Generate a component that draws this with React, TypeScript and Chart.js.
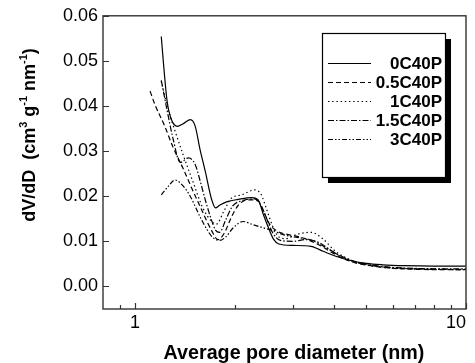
import React, { useEffect, useRef } from 'react';
import { Chart, registerables } from 'chart.js';

Chart.register(...registerables);

const FONT = "'Liberation Sans', Arial, Helvetica, sans-serif";

const seriesNames = ['0C40P', '0.5C40P', '1C40P', '1.5C40P', '3C40P'];

const x0C40P = [1.2, 1.22, 1.25, 1.28, 1.34, 1.4, 1.47, 1.52, 1.57, 1.63, 1.7, 1.75, 1.8, 1.9, 2.05, 2.25, 2.35, 2.44, 2.53, 2.62, 2.72, 3.0, 3.4, 3.7, 4.0, 4.5, 5.0, 5.6, 6.5, 8, 10];
const y0C40P = [0.0554, 0.049, 0.041, 0.0375, 0.0355, 0.0361, 0.037, 0.0355, 0.0305, 0.0255, 0.0195, 0.0174, 0.018, 0.0188, 0.0193, 0.0197, 0.0193, 0.016, 0.013, 0.0105, 0.0094, 0.0091, 0.0089, 0.0078, 0.0068, 0.0057, 0.0051, 0.0048, 0.0046, 0.0045, 0.0045];

const x05C40P = [1.11, 1.15, 1.23, 1.3, 1.4, 1.5, 1.6, 1.7, 1.78, 1.86, 1.95, 2.05, 2.2, 2.35, 2.45, 2.55, 2.7, 2.9, 3.2, 3.6, 4.0, 4.5, 5.5, 7, 10];
const y05C40P = [0.0433, 0.0402, 0.0355, 0.031, 0.026, 0.021, 0.0165, 0.0125, 0.0104, 0.0118, 0.0152, 0.018, 0.0192, 0.019, 0.0165, 0.0138, 0.0122, 0.0115, 0.0108, 0.0092, 0.0072, 0.0055, 0.0043, 0.0038, 0.0037];

const x1C40P = [1.2, 1.25, 1.3, 1.4, 1.5, 1.6, 1.7, 1.76, 1.85, 1.95, 2.1, 2.3, 2.4, 2.5, 2.6, 2.7, 2.85, 3.1, 3.4, 3.7, 4.0, 4.5, 5.5, 7, 10];
const y1C40P = [0.0455, 0.04, 0.036, 0.029, 0.023, 0.0175, 0.0145, 0.0138, 0.0165, 0.0195, 0.0203, 0.0214, 0.0205, 0.017, 0.0135, 0.0112, 0.0106, 0.0116, 0.012, 0.0105, 0.008, 0.0058, 0.0043, 0.0039, 0.0038];

const x15C40P = [1.2, 1.25, 1.3, 1.37, 1.45, 1.52, 1.57, 1.63, 1.7, 1.75, 1.8, 1.88, 1.97, 2.1, 2.3, 2.4, 2.5, 2.6, 2.75, 3.0, 3.3, 3.6, 4.0, 4.5, 5.5, 7, 10];
const y15C40P = [0.0457, 0.039, 0.033, 0.0275, 0.0285, 0.027, 0.0236, 0.0192, 0.0148, 0.0125, 0.012, 0.0148, 0.0178, 0.019, 0.0194, 0.018, 0.015, 0.012, 0.0102, 0.01, 0.0104, 0.0097, 0.0075, 0.0058, 0.0045, 0.004, 0.0039];

const x3C40P = [1.2, 1.26, 1.32, 1.4, 1.47, 1.57, 1.65, 1.72, 1.8, 1.88, 1.98, 2.12, 2.27, 2.44, 2.6, 2.8, 3.0, 3.4, 3.8, 4.3, 5.0, 6.5, 10];
const y3C40P = [0.0203, 0.0222, 0.0236, 0.0222, 0.0199, 0.0155, 0.0126, 0.0108, 0.0102, 0.011, 0.013, 0.0144, 0.0137, 0.013, 0.0124, 0.0115, 0.011, 0.0103, 0.0085, 0.0062, 0.0048, 0.004, 0.0037];

const seriesX = [x0C40P, x05C40P, x1C40P, x15C40P, x3C40P];
const seriesY = [y0C40P, y05C40P, y1C40P, y15C40P, y3C40P];
const seriesDash: number[][] = [[], [5, 3], [1.4, 2.8], [6, 2, 1.5, 2], [5, 2, 1.5, 2, 1.5, 2]];

const yTickValues = [0, 0.01, 0.02, 0.03, 0.04, 0.05, 0.06];
const xTickValues = [0.9, 1, 2, 3, 4, 5, 6, 7, 8, 9, 10];
const xLabeled = [1, 10];
const X_MIN = 0.8;
const X_MAX = 10;
const Y_MIN = -0.005;
const Y_MAX = 0.06;

const xTitle = 'Average pore diameter (nm)';
const yTitleParts = [
  { t: 'dV/dD  (cm', sup: false },
  { t: '3', sup: true },
  { t: ' g', sup: false },
  { t: '-1', sup: true },
  { t: ' nm', sup: false },
  { t: '-1', sup: true },
  { t: ')', sup: false },
];

function drawRich(ctx: CanvasRenderingContext2D, parts: { t: string; sup: boolean }[], size: number, cx: number, cy: number, rotate: boolean) {
  ctx.save();
  ctx.translate(cx, cy);
  if (rotate) ctx.rotate(-Math.PI / 2);
  const base = `bold ${size}px ${FONT}`;
  const sup = `bold ${Math.round(size * 0.62)}px ${FONT}`;
  let total = 0;
  for (const p of parts) {
    ctx.font = p.sup ? sup : base;
    total += ctx.measureText(p.t).width;
  }
  let x = -total / 2;
  ctx.textAlign = 'left';
  ctx.textBaseline = 'middle';
  ctx.fillStyle = '#000';
  for (const p of parts) {
    ctx.font = p.sup ? sup : base;
    ctx.fillText(p.t, x, p.sup ? -size * 0.36 : 0);
    x += ctx.measureText(p.t).width;
  }
  ctx.restore();
}

const decorPlugin = {
  id: 'decor',
  afterDraw(chart: any) {
    const ctx: CanvasRenderingContext2D = chart.ctx;
    const { left, right, top, bottom } = chart.chartArea;
    const xs = chart.scales.x;
    const ys = chart.scales.y;
    ctx.save();
    // frame
    ctx.strokeStyle = '#333';
    ctx.lineWidth = 1.4;
    ctx.strokeRect(left, top, right - left, bottom - top);
    // inward ticks
    ctx.lineWidth = 1.2;
    ctx.beginPath();
    for (const v of xTickValues) {
      const px = Math.round(xs.getPixelForValue(v)) + 0.5;
      const len = xLabeled.includes(v) ? 6 : 4;
      ctx.moveTo(px, bottom);
      ctx.lineTo(px, bottom - len);
    }
    for (const v of yTickValues) {
      const py = Math.round(ys.getPixelForValue(v)) + 0.5;
      ctx.moveTo(left, py);
      ctx.lineTo(left + 6, py);
    }
    ctx.stroke();

    // legend
    const bx = 322, by = 33, bw = 123, bh = 144;
    ctx.fillStyle = '#000';
    ctx.fillRect(bx + 6, by + 6, bw, bh);
    ctx.fillStyle = '#fff';
    ctx.fillRect(bx, by, bw, bh);
    ctx.strokeStyle = '#000';
    ctx.lineWidth = 1.2;
    ctx.strokeRect(bx + 0.5, by + 0.5, bw, bh);
    const rows = [63, 82, 101, 120, 139];
    ctx.font = `bold 17px ${FONT}`;
    ctx.textAlign = 'right';
    ctx.textBaseline = 'middle';
    seriesNames.forEach((name, i) => {
      const ry = rows[i];
      ctx.beginPath();
      ctx.setLineDash(seriesDash[i]);
      ctx.lineWidth = 1.1;
      ctx.moveTo(328, ry + 0.5);
      ctx.lineTo(371, ry + 0.5);
      ctx.stroke();
      ctx.setLineDash([]);
      ctx.fillStyle = '#000';
      ctx.fillText(name, 442, ry + 1);
    });

    // titles
    ctx.font = `bold 19.7px ${FONT}`;
    ctx.textAlign = 'center';
    ctx.textBaseline = 'middle';
    ctx.fillStyle = '#000';
    ctx.fillText(xTitle, 294, 354);
    drawRich(ctx, yTitleParts, 18, 30, 135, true);
    ctx.restore();
  },
};

export default function App() {
  const ref = useRef<HTMLCanvasElement | null>(null);
  useEffect(() => {
    if (!ref.current) return;
    const datasets = seriesNames.map((name, i) => ({
      label: name,
      data: seriesX[i].map((x, j) => ({ x, y: seriesY[i][j] })),
      borderColor: '#000',
      borderWidth: 1.2,
      borderDash: seriesDash[i],
      pointRadius: 0,
      fill: false,
      tension: 0.4,
      cubicInterpolationMode: 'monotone' as const,
    }));
    const chart = new Chart(ref.current, {
      type: 'line',
      data: { datasets },
      options: {
        responsive: false,
        animation: false,
        devicePixelRatio: 1,
        layout: { padding: { top: 15, right: 9, left: 0, bottom: 0 } },
        plugins: {
          legend: { display: false },
          tooltip: { enabled: false },
          title: { display: false },
        },
        scales: {
          x: {
            type: 'logarithmic',
            min: X_MIN,
            max: X_MAX,
            afterBuildTicks: (a: any) => {
              a.ticks = xTickValues.map((v) => ({ value: v }));
            },
            afterFit: (s: any) => {
              s.height = 54;
            },
            grid: { display: false, drawTicks: false },
            border: { display: false },
            ticks: {
              autoSkip: false,
              maxRotation: 0,
              minRotation: 0,
              align: 'inner',
              padding: 3,
              color: '#000',
              font: { family: FONT, size: 18 },
              callback: (v: any) => (xLabeled.includes(Number(v)) ? String(v) : ''),
            },
          },
          y: {
            type: 'linear',
            min: Y_MIN,
            max: Y_MAX,
            afterBuildTicks: (a: any) => {
              a.ticks = yTickValues.map((v) => ({ value: v }));
            },
            afterFit: (s: any) => {
              s.width = 103;
            },
            grid: { display: false, drawTicks: false },
            border: { display: false },
            ticks: {
              padding: 5,
              color: '#000',
              font: { family: FONT, size: 18 },
              callback: (v: any) => Number(v).toFixed(2),
            },
          },
        },
      },
      plugins: [decorPlugin],
    } as any);
    return () => chart.destroy();
  }, []);
  return (
    <div style={{ position: 'fixed', left: 0, top: 0, width: 475, height: 363, background: '#fff' }}>
      <canvas ref={ref} width={475} height={363} style={{ width: 475, height: 363, display: 'block' }} />
    </div>
  );
}
